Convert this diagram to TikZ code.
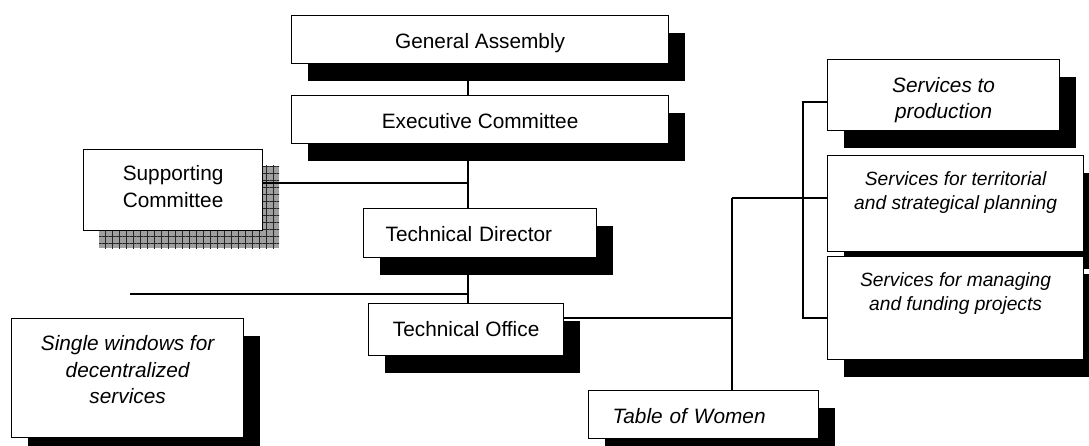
\documentclass[tikz,border=0pt]{standalone}
\usepackage{fontspec}
\setmainfont{Liberation Sans}
\usetikzlibrary{shadows,backgrounds,patterns.meta}
\tikzset{
  unit/.style  ={draw, line width=1.2pt, fill=white, inner sep=0pt, align=center, anchor=north west, text height=32.5pt, font=\fontsize{20.8}{26.5}\selectfont},
  shd/.style   ={drop shadow={shadow xshift=16pt, shadow yshift=-17pt, fill=black, opacity=1}},
  svc/.style   ={unit, shd, font=\itshape\fontsize{20.8}{26.5}\selectfont},
  svcs/.style  ={svc, text height=54pt, font=\itshape\fontsize{19.2}{24}\selectfont},
  link/.style  ={line width=1.1pt},
}

\begin{document}
\begin{tikzpicture}[x=1pt, y=-1pt]
  \useasboundingbox (0,0) rectangle (1089,446);

  % governing bodies
  \node[unit, shd, minimum width=377pt, text depth=15.5pt] (assembly)  at (291,15)  {General Assembly};
  \node[unit, shd, minimum width=377pt, text depth=15.5pt] (executive) at (291,95)  {Executive Committee};
  \node[unit, minimum width=179pt, text height=57.5pt, text depth=23.5pt] (support) at (83,149) {Supporting\\Committee};
  \node[unit, shd, inner xsep=22pt, text width=189pt, align=left, text depth=16.5pt] (director) at (363,208) {Technical Director};
  \node[unit, shd, minimum width=195pt, text depth=19.5pt] (office) at (368,303) {Technical Office};

  % services
  \node[svc, minimum width=232pt, text height=85pt, text depth=34pt] (windows) at (11,318) {Single windows for\\decentralized\\services};
  \node[svc, inner xsep=24pt, text width=182pt, align=left, text depth=15.5pt] (women) at (588,390) {Table of Women};
  \node[svc, minimum width=232pt, text height=59pt, text depth=12pt] (prod) at (827,59) {Services to\\production};
  \node[svcs, minimum width=256pt, text depth=42pt] (plan) at (827,155) {Services for territorial\\and strategical planning};
  \node[svcs, minimum width=256pt, text depth=49pt] (fund) at (827,256) {Services for managing\\and funding projects};

  % grid shadow behind the supporting committee
  \begin{scope}[on background layer]
    \fill[gray!75] ([shift={(16,17)}]support.north west) rectangle ([shift={(16,17)}]support.south east);
    \fill[pattern={Hatch[distance=7pt, line width=.7pt]}, pattern color=black!85]
      ([shift={(16,17)}]support.north west) rectangle ([shift={(16,17)}]support.south east);
  \end{scope}

  % main line
  \coordinate (spine) at (468,0);
  \draw[link] (assembly.south -| spine) -- (executive.north -| spine);
  \draw[link] (executive.south -| spine) -- (director.north -| spine);
  \draw[link] (director.south -| spine) -- (office.north -| spine);

  \coordinate (sjoin) at (468,183);
  \draw[link] (support.east |- sjoin) -- (sjoin);
  \coordinate (loose) at (130,294);
  \draw[link] (loose) -- (loose -| spine);

  % branches to the services
  \coordinate (wjoin) at (732,198);
  \coordinate (ptop) at (803,102);
  \coordinate (pbot) at (803,318);
  \draw[link] (office.east |- pbot) -- (pbot -| wjoin);
  \draw[link] (wjoin) -- (women.north -| wjoin);
  \draw[link] (wjoin) -- (wjoin -| plan.west);
  \draw[link] (prod.west |- ptop) -- (ptop) -- (pbot) -- (fund.west |- pbot);
\end{tikzpicture}
\end{document}
